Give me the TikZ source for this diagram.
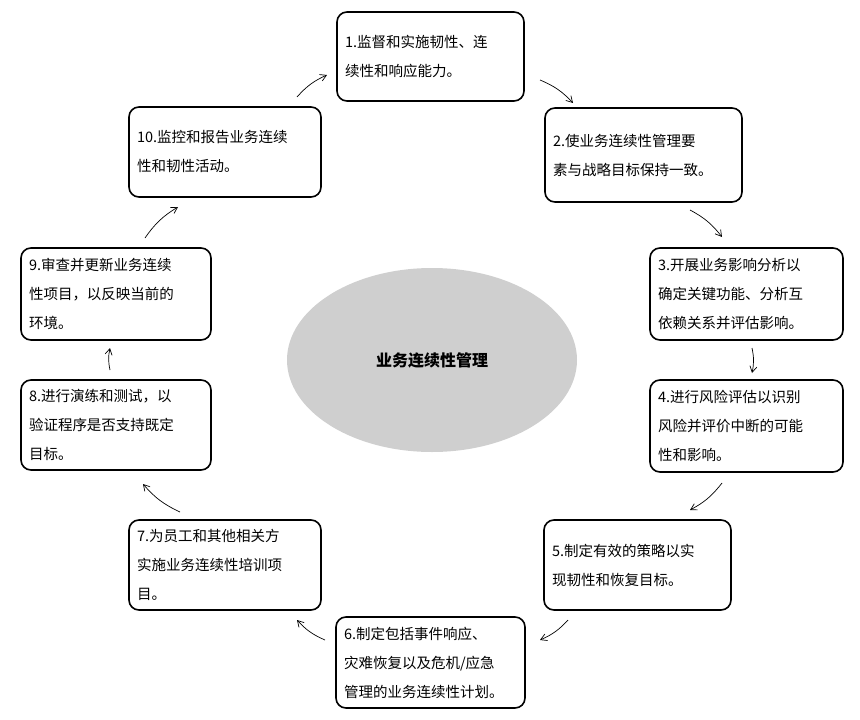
\documentclass[tikz,border=0pt]{standalone}
\usepackage{fontspec}
\newfontfamily\cjk{Noto Sans CJK SC}
\usetikzlibrary{arrows.meta}
\usetikzlibrary{shapes.geometric}
\tikzset{
	every path/.style={thick},
	stage/.style={
		draw,
		rectangle,
		rounded corners=10pt,
		line width=1.6pt,
		align=left,
		inner xsep=8pt,
		font=\cjk\fontsize{14.5}{29}\selectfont,
	},
	core/.style={
		ellipse,
		fill=black!19,
		font=\cjk\bfseries\fontsize{16}{20}\selectfont,
	},
	flow/.style={
		line width=0.7pt,
		-{Straight Barb[angle=60:7pt 0]},
		bend left=12,
	},
}
\begin{document}
\begin{tikzpicture}[x=1pt,y=-1pt]
	\useasboundingbox (0,0) rectangle (860,720);

	\node[core, minimum width=290, minimum height=184] (bcm) at (432,360) {业务连续性管理};

	\node[stage, minimum width=187, minimum height=89, text width=171] (s1) at (430.5,56.5) {1.监督和实施韧性、连\\续性和响应能力。};
	\node[stage, minimum width=197, minimum height=94, text width=181] (s2) at (643.5,155) {2.使业务连续性管理要\\素与战略目标保持一致。};
	\node[stage, minimum width=191, minimum height=92, text width=177] (s3) at (746.5,294) {3.开展业务影响分析以\\确定关键功能、分析互\\依赖关系并评估影响。};
	\node[stage, minimum width=191, minimum height=92, text width=177] (s4) at (746.5,426) {4.进行风险评估以识别\\风险并评价中断的可能\\性和影响。};
	\node[stage, minimum width=185, minimum height=90, text width=171] (s5) at (637.5,565) {5.制定有效的策略以实\\现韧性和恢复目标。};
	\node[stage, minimum width=187, minimum height=91, text width=173] (s6) at (430.5,662.5) {6.制定包括事件响应、\\灾难恢复以及危机/应急\\管理的业务连续性计划。};
	\node[stage, minimum width=190, minimum height=90, text width=176] (s7) at (225,565) {7.为员工和其他相关方\\实施业务连续性培训项\\目。};
	\node[stage, minimum width=188, minimum height=90, text width=174] (s8) at (116,425) {8.进行演练和测试，以\\验证程序是否支持既定\\目标。};
	\node[stage, minimum width=188, minimum height=92, text width=174] (s9) at (116,294) {9.审查并更新业务连续\\性项目，以反映当前的\\环境。};
	\node[stage, minimum width=190, minimum height=90, text width=176] (s10) at (225,152) {10.监控和报告业务连续\\性和韧性活动。};

	% arrow ends between the stages
	\coordinate (a1) at (540,80);  \coordinate (b1) at (573,103);
	\coordinate (a2) at (690,210); \coordinate (b2) at (722,237);
	\coordinate (a3) at (752,348); \coordinate (b3) at (752,373);
	\coordinate (a4) at (722,483); \coordinate (b4) at (690,510);
	\coordinate (a5) at (568,620); \coordinate (b5) at (540,640);
	\coordinate (a6) at (325,640); \coordinate (b6) at (297,620);
	\coordinate (a7) at (180,512); \coordinate (b7) at (143,484);
	\coordinate (a8) at (110,370); \coordinate (b8) at (110,348);
	\coordinate (a9) at (145,238); \coordinate (b9) at (178,207);
	\coordinate (a10) at (297,97); \coordinate (b10) at (327,75);

	\foreach \i in {1,...,10}
		\draw[flow] (a\i) to (b\i);

\end{tikzpicture}
\end{document}
